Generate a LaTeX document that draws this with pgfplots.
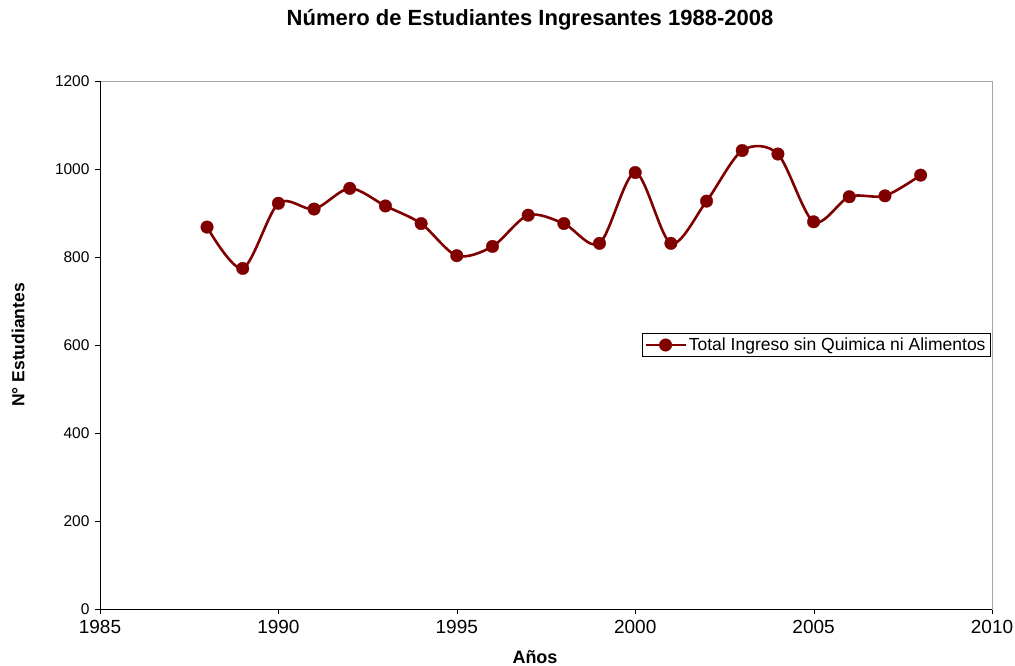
\documentclass[border=0pt]{standalone}
\usepackage{pgfplots}
\pgfplotsset{compat=1.18}
\usepackage{fontspec}
\setmainfont{Liberation Sans}
\definecolor{serie}{HTML}{800000}

\begin{document}
\begin{tikzpicture}
\begin{axis}[
  name=ax,
  scale only axis,
  width=892bp, height=528bp,
  xmin=1985, xmax=2010,
  ymin=0, ymax=1200,
  xtick={1985,1990,...,2010},
  ytick={0,200,...,1200},
  tick align=outside,
  major tick length=5bp,
  xtick pos=bottom, ytick pos=left,
  axis line style={gray!70},
  tick style={black},
  /pgf/number format/assume math mode=true,
  /pgf/number format/1000 sep={},
  xticklabel style={font=\fontsize{19bp}{21bp}\selectfont, yshift=-3bp},
  yticklabel style={font=\fontsize{15.5bp}{17bp}\selectfont, xshift=-2bp},
  legend style={
    at={(0.998,0.5)}, anchor=east,
    draw=black, fill=white,
    font=\fontsize{17.5bp}{19bp}\selectfont,
    inner sep=2.5bp,
  },
  legend cell align=left,
  legend image code/.code={
    \draw[mark repeat=2, mark phase=2, #1] plot coordinates {(0bp,0bp) (20bp,0bp) (40bp,0bp)};
  },
]
\addplot[color=serie, line width=2.6bp, smooth, tension=0.5,
  mark=*, mark size=6.3bp, mark options={solid, fill=serie, draw=serie, line width=0.3bp}]
  coordinates {
  (1988,868) (1989,774) (1990,922) (1991,909) (1992,956)
  (1993,916) (1994,876) (1995,803) (1996,824) (1997,895)
  (1998,876) (1999,831) (2000,992) (2001,831) (2002,927)
  (2003,1042) (2004,1034) (2005,880) (2006,937) (2007,939)
  (2008,986)
};
\addlegendentry{Total Ingreso sin Quimica ni Alimentos}
\end{axis}
\draw[black, line width=0.8bp] (ax.north west) -- (ax.south west) -- (ax.south east);
\node[font=\bfseries\fontsize{22bp}{24bp}\selectfont] at ([xshift=-16bp, yshift=61bp]ax.north) {Número de Estudiantes Ingresantes 1988-2008};
\node[font=\bfseries\fontsize{17.5bp}{19bp}\selectfont, rotate=90] at ([xshift=-82bp]ax.west) {N° Estudiantes};
\node[font=\bfseries\fontsize{18bp}{20bp}\selectfont] at ([xshift=-11bp, yshift=-48bp]ax.south) {Años};
\pgfresetboundingbox
\path[use as bounding box] ([shift={(-100bp,-57bp)}]ax.south west) rectangle ([shift={(23bp,81bp)}]ax.north east);
\end{tikzpicture}
\end{document}
